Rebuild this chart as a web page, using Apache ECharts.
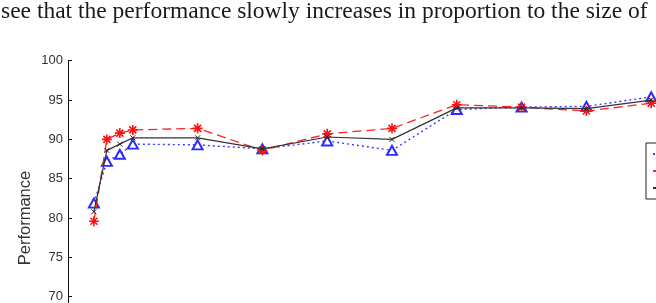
<!DOCTYPE html>
<html>
<head>
<meta charset="utf-8">
<script src="https://cdn.jsdelivr.net/npm/echarts@6/dist/echarts.min.js"></script>
<style>
html,body{margin:0;padding:0;background:#fff;}
#chart{width:656px;height:303px;}
</style>
</head>
<body>
<div id="chart"></div>
<script>
var headline = 'see that the performance slowly increases in proportion to the size of';
var sizes = [2, 3, 4, 5, 10, 15, 20, 25, 30, 35, 40, 45];
var blueSeries = [81.9, 87.2, 88.1, 89.4, 89.3, 88.8, 89.8, 88.6, 93.8, 94.1, 94.2, 95.4];
var redSeries = [79.6, 90.0, 90.8, 91.2, 91.4, 88.6, 90.7, 91.4, 94.4, 94.1, 93.6, 94.6];
var blackSeries = [80.8, 88.6, 89.4, 90.2, 90.2, 88.8, 90.3, 90.0, 94.0, 94.0, 93.9, 95.0];
var seriesNames = ['Method 1', 'Method 2', 'Method 3'];
var yTicks = [60, 65, 70, 75, 80, 85, 90, 95, 100];

function pairs(vals) {
  return sizes.map(function (s, i) { return [s, vals[i]]; });
}

var starPath = 'path://M5,0L5,10M0,5L10,5M1.5,1.5L8.5,8.5M8.5,1.5L1.5,8.5';
var xPath = 'path://M0,0L10,10M10,0L0,10';

var chart = echarts.init(document.getElementById('chart'), null, {renderer: 'canvas'});
chart.setOption({
  animation: false,
  backgroundColor: '#fff',
  title: {
    text: headline,
    left: 1,
    top: 0,
    padding: 0,
    textStyle: {fontFamily: 'Liberation Serif', fontSize: 23.5, fontWeight: 'normal', color: '#1a1a1a'}
  },
  legend: {
    orient: 'vertical',
    left: 646,
    top: 143,
    padding: [5, 6],
    itemGap: 5,
    itemWidth: 30,
    itemHeight: 12,
    borderColor: '#222',
    borderWidth: 1,
    backgroundColor: '#fff',
    textStyle: {fontFamily: 'Liberation Sans', fontSize: 12, color: '#222'},
    data: seriesNames
  },
  grid: {left: 68, top: 60.7, width: 648, height: 314.7, containLabel: false, outerBoundsMode: 'none'},
  xAxis: {
    type: 'value', min: 0, max: 50, interval: 5,
    axisLine: {lineStyle: {color: '#111'}},
    splitLine: {show: false},
    axisTick: {inside: true},
    axisLabel: {fontFamily: 'Liberation Sans', fontSize: 13, color: '#333'}
  },
  yAxis: {
    type: 'value', min: 60, max: 100, interval: 5,
    name: 'Performance',
    nameLocation: 'middle',
    nameGap: 34,
    nameMoveOverlap: false,
    nameTextStyle: {fontFamily: 'Liberation Sans', fontSize: 16.5, color: '#333'},
    axisLine: {show: true, lineStyle: {color: '#111', width: 1}},
    splitLine: {show: false},
    axisTick: {show: true, inside: true, length: 4, lineStyle: {color: '#111'}},
    axisLabel: {
      margin: 5, fontFamily: 'Liberation Sans', fontSize: 13, color: '#333',
      formatter: function (v) { return yTicks.indexOf(v) >= 0 ? String(v) : ''; }
    }
  },
  series: [
    {
      name: seriesNames[0], type: 'line', data: pairs(blueSeries),
      symbol: 'emptyTriangle', symbolSize: [10, 9],
      itemStyle: {color: '#2b2bff', borderColor: '#2b2bff', borderWidth: 1.3},
      lineStyle: {color: '#3b3bff', width: 1.4, type: [2, 3]},
      z: 2
    },
    {
      name: seriesNames[1], type: 'line', data: pairs(redSeries),
      symbol: starPath, symbolSize: 10,
      itemStyle: {color: 'rgba(0,0,0,0)', borderColor: '#ff1010', borderWidth: 1.6},
      lineStyle: {color: '#ff2020', width: 1.3, type: [9, 5]},
      z: 3
    },
    {
      name: seriesNames[2], type: 'line', data: pairs(blackSeries),
      symbol: xPath, symbolSize: 5,
      itemStyle: {color: 'rgba(0,0,0,0)', borderColor: '#222', borderWidth: 1},
      lineStyle: {color: '#333', width: 1.2, type: 'solid'},
      z: 4
    }
  ]
});
</script>
</body>
</html>
